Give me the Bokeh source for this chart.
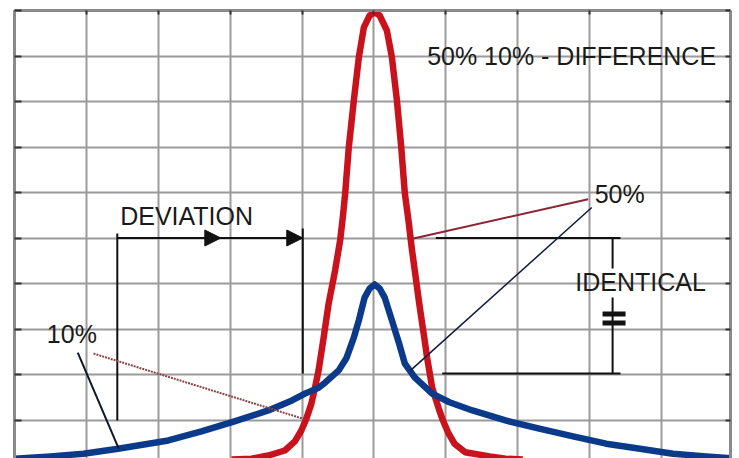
from bokeh.plotting import figure
from bokeh.models import Range1d, LinearAxis, FixedTicker, Label, Arrow, NormalHead
from bokeh.embed import file_html
from bokeh.resources import INLINE

# ---- data (grid units) ----
grid_x = [0, 1, 2, 3, 4, 5, 6, 7, 8, 9, 10]
grid_y = [0, 1, 2, 3, 4, 5, 6, 7, 8, 9, 10]

red_x = [3.02, 3.30, 3.53, 3.76, 3.90, 3.99, 4.06, 4.13, 4.18, 4.23,
         4.30, 4.37, 4.46, 4.53, 4.57, 4.60, 4.65, 4.72, 4.79, 4.86,
         4.94, 5.01, 5.08, 5.18, 5.25, 5.32, 5.38, 5.43, 5.48, 5.53,
         5.63, 5.70, 5.74, 5.81, 5.91, 5.95, 6.03, 6.12, 6.27, 6.61,
         6.83, 7.07]
red_y = [0.13, 0.15, 0.22, 0.33, 0.53, 0.77, 1.03, 1.36, 1.71, 2.09,
         2.81, 3.56, 4.29, 4.95, 5.50, 5.98, 6.99, 8.02, 8.97, 9.63,
         9.89, 9.96, 9.89, 9.56, 8.97, 8.02, 6.99, 5.98, 5.39, 4.73,
         3.56, 2.81, 2.37, 1.71, 1.21, 1.03, 0.73, 0.48, 0.29, 0.20,
         0.15, 0.13]

blue_x = [0.00, 0.50, 0.96, 1.44, 2.14, 2.60, 3.06, 3.53, 3.86, 4.04,
          4.23, 4.32, 4.51, 4.62, 4.72, 4.79, 4.87, 4.94, 5.01, 5.08,
          5.15, 5.25, 5.35, 5.43, 5.57, 5.81, 6.05, 6.37, 6.83, 7.30,
          7.77, 8.23, 8.70, 9.16, 9.62, 10.04]
blue_y = [0.15, 0.20, 0.26, 0.37, 0.55, 0.75, 0.97, 1.21, 1.43, 1.58,
          1.71, 1.82, 2.09, 2.37, 2.81, 3.19, 3.69, 3.89, 3.98, 3.89,
          3.69, 3.19, 2.68, 2.24, 1.93, 1.58, 1.39, 1.21, 0.99, 0.81,
          0.64, 0.48, 0.37, 0.26, 0.20, 0.15]

FONT = "Liberation Sans"
RED = "#c8121c"
BLUE = "#0c3a8a"
GRID = "#9a9a9a"
BORDER = "#8a8a8a"

p = figure(width=739, height=458, output_backend="svg", toolbar_location=None,
           x_range=Range1d(0, 9.96), y_range=Range1d(0.154, 10),
           x_axis_location="above", y_axis_location="left",
           min_border_left=14, min_border_top=10, min_border_right=9,
           min_border_bottom=0)
p.outline_line_color = None
p.background_fill_color = "white"
p.border_fill_color = "white"

p.xaxis.ticker = FixedTicker(ticks=grid_x)
p.yaxis.ticker = FixedTicker(ticks=grid_y)
p.add_layout(LinearAxis(ticker=FixedTicker(ticks=grid_y)), "right")

for ax in p.axis:
    ax.axis_line_color = BORDER
    ax.axis_line_width = 3
    ax.major_tick_in = 7
    ax.major_tick_out = 0
    ax.major_tick_line_color = "#333333"
    ax.major_tick_line_width = 2
    ax.minor_tick_line_color = None
    ax.major_label_text_font_size = "0px"
    ax.major_label_text_color = None
    ax.major_label_standoff = 0
p.xaxis.major_tick_in = 4
p.right[0].major_tick_in = 5

p.grid.grid_line_color = GRID
p.grid.grid_line_width = 2

# ---- curves ----
p.line(red_x, red_y, line_color=RED, line_width=6.5, line_join="round")
p.line(blue_x, blue_y, line_color=BLUE, line_width=6.5, line_join="round")

# ---- annotation lines ----
BLACK = "#111111"
# deviation bracket
p.segment(x0=[1.43, 1.43, 4.01], y0=[5.0, 5.10, 5.21],
          x1=[4.01, 1.43, 4.01], y1=[5.0, 0.99, 2.02],
          line_color=BLACK, line_width=2)
for tip in (2.87, 4.01):
    p.add_layout(Arrow(end=NormalHead(size=16, fill_color=BLACK, line_color=BLACK),
                       x_start=tip - 0.2, y_start=5.0, x_end=tip, y_end=5.0,
                       line_color=BLACK, line_width=2))
# identical bracket
p.segment(x0=[5.86, 5.95, 8.32, 8.32], y0=[5.0, 2.02, 5.0, 3.69],
          x1=[8.43, 8.43, 8.32, 8.32], y1=[5.0, 2.02, 4.33, 2.02],
          line_color=BLACK, line_width=2)
p.segment(x0=[8.18, 8.18], y0=[3.33, 3.13], x1=[8.50, 8.50], y1=[3.33, 3.13],
          line_color=BLACK, line_width=5)
# leader lines
p.segment(x0=[7.98], y0=[5.85], x1=[5.55], y1=[4.99], line_color="#8b2535", line_width=2)
p.segment(x0=[8.03], y0=[5.67], x1=[5.51], y1=[2.09], line_color="#101a3a", line_width=1.5)
p.segment(x0=[1.10], y0=[2.46], x1=[4.01], y1=[1.03], line_color="#8a4545",
          line_width=2, line_dash="2 1")
p.segment(x0=[0.88], y0=[2.48], x1=[1.45], y1=[0.37], line_color="#101828", line_width=2)

# ---- texts ----
def lab(x, y, t):
    p.add_layout(Label(x=x, y=y, text=t, text_font=FONT, text_font_size="25px",
                       text_color="#1a1a1a", text_baseline="alphabetic",
                       text_align="left"))

lab(5.74, 8.99, "50% 10% - DIFFERENCE")
lab(1.47, 5.48, "DEVIATION")
lab(8.07, 5.97, "50%")
lab(7.80, 4.04, "IDENTICAL")
lab(0.45, 2.89, "10%")

open("out.html", "w").write(file_html(p, INLINE))
